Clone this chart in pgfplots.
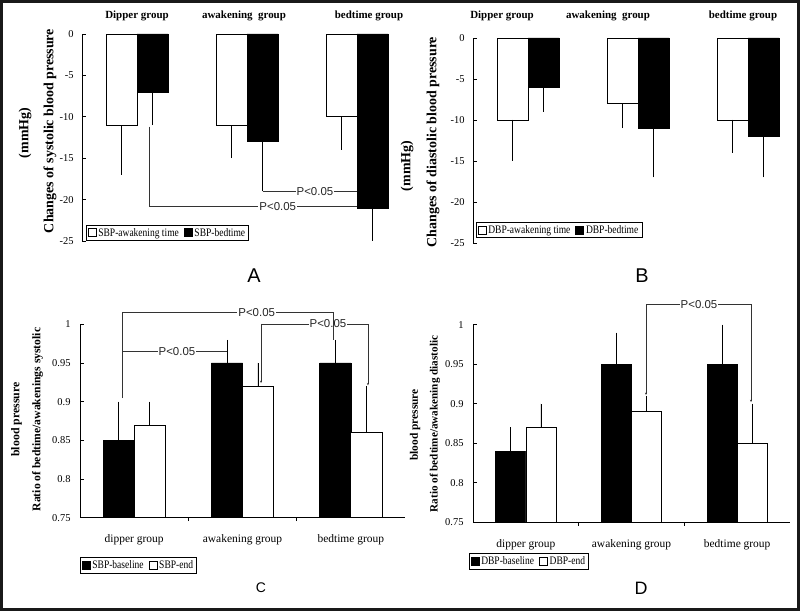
\documentclass[border=0pt]{standalone}
\usepackage{fontspec}
\setmainfont{Liberation Serif}
\newfontfamily\condleg[FakeStretch=0.83]{Liberation Serif}
\newfontfamily\sansf{Liberation Sans}
\usepackage{pgfplots}
\pgfplotsset{compat=1.18}
\usetikzlibrary{arrows.meta}

\pgfplotsset{
  base/.style={
    scale only axis, axis on top,
    axis line style={black, line width=0.7bp},
    tick style={black, line width=0.7bp},
    tick align=inside, major tick length=3.5bp,
    xmin=0.5,
    ybar, bar width=0.282,
    legend columns=2,
    legend style={draw=black, line width=0.6bp, inner xsep=1.5bp, inner ysep=1.2bp,
      font=\condleg\fontsize{11.5}{12}\selectfont,
      /tikz/every even column/.append style={column sep=3bp}},
    error bars/error bar style={black, line width=0.6bp},
  },
  sq legend/.style={legend image code/.code={\draw[##1,draw=black,line width=0.6bp] (0bp,-4bp) rectangle (8bp,4bp);}},
  negerr/.style={error bars/.cd, y dir=minus, y explicit, error mark=none},
  poserr/.style={error bars/.cd, y dir=plus, y explicit, error mark=none},
}
\tikzset{
  ann/.style={draw=black!80, line width=0.6bp},
  pval/.style={fill=white, inner sep=1bp, font=\sansf\fontsize{11.5}{12}\selectfont, text=black!85},
}

\begin{document}
\begin{tikzpicture}[x=1bp,y=1bp]
\useasboundingbox (0bp,0bp) rectangle (800bp,611bp);
\fill[white] (0bp,0bp) rectangle (800bp,611bp);

% ---------------- Panel A ----------------
\begin{axis}[base, at={(82bp,370bp)}, anchor=south west, width=330bp, height=207bp,
  xmax=3.5, ymin=-25, ymax=0, hide x axis, axis y line*=left,
  ytick={-25,-20,-15,-10,-5,0}, yticklabels={-25,-20,-15,-10,-5,0},
  yticklabel style={font=\fontsize{10.5}{11}\selectfont, xshift=-5bp},
  clip=false,
  legend style={at={(0.012,0.0)}, anchor=south west}]
\addplot[fill=white, draw=black, line width=0.6bp, bar shift=-0.141, sq legend, negerr]
  coordinates {(1,-11) +- (0,6) (2,-11) +- (0,4) (3,-10) +- (0,4)};
\addplot[fill=black, draw=black, line width=0.6bp, bar shift=0.141, sq legend, negerr]
  coordinates {(1,-7) +- (0,4) (2,-13) +- (0,6) (3,-21) +- (0,4)};
\legend{SBP-awakening time, SBP-bedtime}
\draw[ann] (axis cs:1.11,-11.2) -- (axis cs:1.11,-20.8) -- (axis cs:3.0,-20.8);
\node[pval] at (axis cs:2.28,-20.8) {P<0.05};
\draw[ann] (axis cs:2.141,-19) -- (axis cs:3.0,-19);
\node[pval] at (axis cs:2.618,-19) {P<0.05};
\end{axis}

% ---------------- Panel B ----------------
\begin{axis}[base, at={(473bp,368bp)}, anchor=south west, width=324.5bp, height=205bp,
  xmax=3.45, ymin=-25, ymax=0, hide x axis, axis y line*=left,
  ytick={-25,-20,-15,-10,-5,0}, yticklabels={-25,-20,-15,-10,-5,0},
  yticklabel style={font=\fontsize{10.5}{11}\selectfont, xshift=-5bp},
  clip=false,
  legend style={at={(0.009,0.024)}, anchor=south west}]
\addplot[fill=white, draw=black, line width=0.6bp, bar shift=-0.141, sq legend, negerr]
  coordinates {(1,-10) +- (0,5) (2,-8) +- (0,3) (3,-10) +- (0,4)};
\addplot[fill=black, draw=black, line width=0.6bp, bar shift=0.141, sq legend, negerr]
  coordinates {(1,-6) +- (0,3) (2,-11) +- (0,6) (3,-12) +- (0,5)};
\legend{DBP-awakening time, DBP-bedtime}
\end{axis}

% ---------------- Panel C ----------------
\begin{axis}[base, at={(80bp,93.3bp)}, anchor=south west, width=325bp, height=193.4bp,
  xmax=3.5, ymin=0.75, ymax=1, axis x line*=bottom, axis y line*=left,
  bar width=0.287,
  xtick={1.5,2.5}, xticklabels={\mbox{},\mbox{}},
  extra x ticks={1,2,3},
  extra x tick labels={dipper group, awakening group, bedtime group},
  extra x tick style={major tick length=0pt,
    xticklabel style={font=\fontsize{11.5}{12}\selectfont, yshift=-13bp}},
  ytick={0.75,0.8,0.85,0.9,0.95,1}, yticklabels={0.75,0.8,0.85,0.9,0.95,1},
  yticklabel style={font=\fontsize{10.5}{11}\selectfont, xshift=-6bp},
  clip mode=individual,
  legend style={at={(0,-0.203)}, anchor=north west}]
\addplot[fill=black, draw=black, line width=0.6bp, bar shift=-0.143, sq legend, poserr]
  coordinates {(1,0.85) +- (0,0.05) (2,0.95) +- (0,0.03) (3,0.95) +- (0,0.03)};
\addplot[fill=white, draw=black, line width=0.6bp, bar shift=0.143, sq legend, poserr]
  coordinates {(1,0.87) +- (0,0.03) (2,0.92) +- (0,0.03) (3,0.86) +- (0,0.06)};
\legend{SBP-baseline, SBP-end}
\draw[ann] (axis cs:0.888,0.9047) -- (axis cs:0.888,0.9654) -- (axis cs:1.857,0.9654);
\node[pval] at (axis cs:1.395,0.9654) {P<0.05};
\draw[ann, -{Stealth[length=2.5bp,width=2bp]}] (axis cs:2.171,1.0004) -- (axis cs:3.158,1.0004) -- (axis cs:3.158,0.921);
\draw[ann, -{Stealth[length=2.5bp,width=2bp]}] (axis cs:2.171,1.0004) -- (axis cs:2.171,0.924);
\node[pval] at (axis cs:2.789,1.0004) {P<0.05};
\draw[ann] (axis cs:0.888,0.9654) -- (axis cs:0.888,1.0158) -- (axis cs:2.84,1.0158) -- (axis cs:2.84,0.98);
\node[pval] at (axis cs:2.131,1.0158) {P<0.05};
\end{axis}

% ---------------- Panel D ----------------
\begin{axis}[base, at={(473bp,88.7bp)}, anchor=south west, width=317bp, height=197.6bp,
  xmax=3.5, ymin=0.75, ymax=1, axis x line*=bottom, axis y line*=left,
  bar width=0.285,
  xtick={1.5,2.5}, xticklabels={\mbox{},\mbox{}},
  extra x ticks={1,2,3},
  extra x tick labels={dipper group, awakening group, bedtime group},
  extra x tick style={major tick length=0pt,
    xticklabel style={font=\fontsize{11.5}{12}\selectfont, yshift=-14bp}},
  ytick={0.75,0.8,0.85,0.9,0.95,1}, yticklabels={0.75,0.8,0.85,0.9,0.95,1},
  yticklabel style={font=\fontsize{10.5}{11}\selectfont, xshift=-6bp},
  clip mode=individual,
  legend style={at={(-0.013,-0.155)}, anchor=north west}]
\addplot[fill=black, draw=black, line width=0.6bp, bar shift=-0.1425, sq legend, poserr]
  coordinates {(1,0.84) +- (0,0.03) (2,0.95) +- (0,0.04) (3,0.95) +- (0,0.05)};
\addplot[fill=white, draw=black, line width=0.6bp, bar shift=0.1425, sq legend, poserr]
  coordinates {(1,0.87) +- (0,0.03) (2,0.89) +- (0,0.02) (3,0.85) +- (0,0.05)};
\legend{DBP-baseline, DBP-end}
\draw[ann, {Stealth[length=2.5bp,width=2bp]}-{Stealth[length=2.5bp,width=2bp]}] (axis cs:2.137,0.911) -- (axis cs:2.137,1.0253) -- (axis cs:3.131,1.0253) -- (axis cs:3.131,0.902);
\node[pval] at (axis cs:2.639,1.0253) {P<0.05};
\end{axis}

% ---------------- texts ----------------
\begin{scope}[every node/.style={font=\bfseries\fontsize{11}{11}\selectfont}]
\node at (137bp,595bp) {Dipper group};
\node at (244bp,595bp) {awakening\ \ group};
\node at (369bp,595bp) {bedtime group};
\node at (502bp,595bp) {Dipper group};
\node at (608bp,595bp) {awakening\ \ group};
\node at (743bp,595bp) {bedtime group};
\end{scope}

\node[rotate=90, font=\bfseries\fontsize{14}{14}\selectfont] at (50bp,480bp) {Changes of systolic blood pressure};
\node[rotate=90, font=\bfseries\fontsize{14}{14}\selectfont] at (25bp,478bp) {(mmHg)};
\node[rotate=90, font=\bfseries\fontsize{14}{14}\selectfont] at (433bp,469bp) {Changes of diastolic blood pressure};
\node[rotate=90, font=\bfseries\fontsize{14}{14}\selectfont] at (407bp,445bp) {(mmHg)};

\node[rotate=90, font=\bfseries\fontsize{11.7}{11}\selectfont] at (37.5bp,191.5bp) {Ratio of bedtime/awakenings systolic};
\node[rotate=90, font=\bfseries\fontsize{11.9}{11}\selectfont] at (16.5bp,191.5bp) {blood pressure};
\node[rotate=90, font=\bfseries\fontsize{11.2}{11}\selectfont] at (435bp,187bp) {Ratio of bedtime/awakening diastolic};
\node[rotate=90, font=\bfseries\fontsize{11.5}{11}\selectfont] at (415bp,186bp) {blood pressure};

\node[font=\sansf\fontsize{20}{20}\selectfont] at (254bp,335bp) {A};
\node[font=\sansf\fontsize{20}{20}\selectfont] at (642bp,335bp) {B};
\node[font=\sansf\fontsize{14}{14}\selectfont] at (261bp,23bp) {C};
\node[font=\sansf\fontsize{18}{18}\selectfont] at (641bp,23bp) {D};

\draw[line width=3bp, black!90] (1.5bp,1.5bp) rectangle (798.5bp,609.5bp);
\end{tikzpicture}
\end{document}
